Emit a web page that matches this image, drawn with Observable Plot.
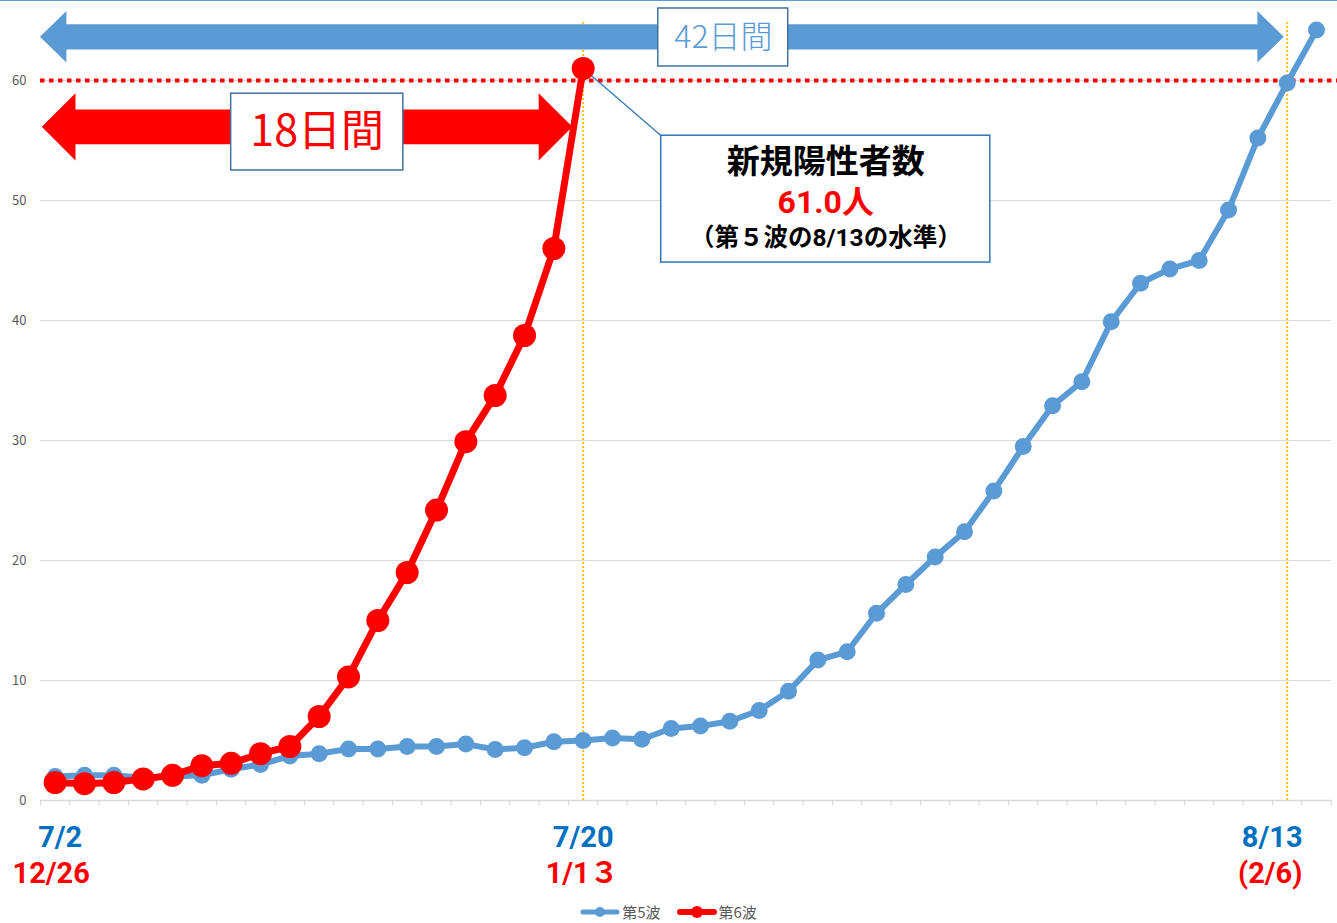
<!DOCTYPE html>
<html><head><meta charset="utf-8">
<script src="https://cdn.jsdelivr.net/npm/d3@7"></script>
<script src="https://cdn.jsdelivr.net/npm/@observablehq/plot@0.6"></script>
<style>
body{margin:0;background:#fff;font-family:"Noto Sans CJK JP","Noto Sans",sans-serif;}
#wrap{position:relative;width:1337px;height:923px;overflow:hidden;background:#fff}
#topline{position:absolute;left:0;top:0;width:1337px;height:1px;background:#5B9BD5}
#legend{position:absolute;left:0;top:900px;width:1337px;height:23px;display:flex;justify-content:center;align-items:center;font-size:15px;color:#595959;box-sizing:border-box}
#legend .item{display:flex;align-items:center;margin:0 8px}
#legend svg{margin-right:2px}
</style></head><body>
<div id="wrap"><div id="chart"></div><div id="legend"></div><div id="topline"></div></div>
<script>
// ---- data ----
const seriesNames = ["第5波", "第6波"];
const wave5 = [2.0,2.1,2.1,1.9,2.0,2.1,2.6,3.0,3.7,3.9,4.3,4.3,4.5,4.5,4.7,4.25,4.4,4.9,5.0,5.2,5.1,6.0,6.2,6.6,7.5,9.1,11.7,12.4,15.6,18.0,20.3,22.4,25.8,29.5,32.9,34.9,39.9,43.1,44.3,45.0,49.2,55.2,59.8,64.2];
const wave6 = [1.5,1.4,1.5,1.8,2.1,2.9,3.1,3.9,4.5,7.0,10.3,15.0,19.0,24.2,29.9,33.75,38.75,46.0,61.0];
const yTicks = [0,10,20,30,40,50,60];
const labelDays = [0, 18, 42];
const labels5 = ["7/2", "7/20", "8/13"];
const labels6 = ["12/26", "1/1３", "(2/6)"];
const threshold = 60;
const span6 = 18, span5 = 42;
const arrowTexts = ["42日間", "18日間"];
const calloutTexts = ["新規陽性者数", "61.0人", "（第５波の8/13の水準）"];

// ---- build ----
const d5 = wave5.map((v,i)=>({day:i, v}));
const d6 = wave6.map((v,i)=>({day:i, v}));
const nDays = wave5.length;
const C5 = "#5B9BD5", C6 = "#FF0000";

function arrowPoly(xa, xb, yc, headLen, headHalf, shaftHalf){
  return [
    {x:xa, y1:yc, y2:yc},
    {x:xa+headLen, y1:yc-headHalf, y2:yc+headHalf},
    {x:xa+headLen, y1:yc-shaftHalf, y2:yc+shaftHalf},
    {x:xb-headLen, y1:yc-shaftHalf, y2:yc+shaftHalf},
    {x:xb-headLen, y1:yc-headHalf, y2:yc+headHalf},
    {x:xb, y1:yc, y2:yc}
  ];
}
const blueArrow = arrowPoly(-0.5, span5-0.1, 63.6, 0.9, 2.15, 1.05);
const redArrow = arrowPoly(-0.44, span6-0.35, 56.1, 1.15, 2.8, 1.45);

const boxes = [
  {x1:20.56, x2:24.99, y1:61.17, y2:66.0, stroke:"#41719C"},
  {x1:6.0, x2:11.87, y1:52.5, y2:58.9, stroke:"#41719C"},
  {x1:20.66, x2:31.88, y1:44.83, y2:55.4, stroke:"#2E75B6"}
];

const font = "'Noto Sans CJK JP', 'Noto Sans', sans-serif";
const tightFont = "Roboto, 'Noto Sans CJK JP', sans-serif";
const dx5 = [5, 0, -15], dx6 = [-4, -1, -17];

const chart = Plot.plot({
  width: 1337, height: 897,
  marginLeft: 40, marginRight: 6.3, marginTop: 0, marginBottom: 97,
  x: {domain: [-0.5, nDays - 0.5], axis: null},
  y: {domain: [0, 800/12], axis: null},
  style: {fontFamily: font, background: "white"},
  marks: [
    Plot.ruleY(yTicks.filter(d=>d>0), {x1:-0.5, x2:nDays-0.5, stroke:"#d9d9d9", strokeWidth:1.2}),
    Plot.ruleY([0], {x1:-0.5, x2:nDays-0.5, stroke:"#d9d9d9", strokeWidth:1.6}),
    Plot.ruleX(d3.range(nDays+1).map(i=>i-0.5), {y1:0, y2:-0.45, stroke:"#d9d9d9", strokeWidth:1.2}),
    Plot.text(yTicks, {x:-0.5, y:d=>d, text:d=>String(d), dx:-14, textAnchor:"end", fontSize:13, fill:"#595959"}),
    Plot.ruleX([span6, span5], {y1:0, y2:65, stroke:"#FFC000", strokeWidth:2, strokeDasharray:"2,2"}),
    Plot.ruleY([threshold], {x1:-0.5, x2:nDays-0.28, stroke:C6, strokeWidth:4, strokeDasharray:"4.5,4.5"}),
    Plot.areaY(blueArrow, {x:"x", y1:"y1", y2:"y2", fill:C5, curve:"linear"}),
    Plot.areaY(redArrow, {x:"x", y1:"y1", y2:"y2", fill:C6, curve:"linear"}),
    Plot.link([{a:span6, b:wave6[span6]}], {x1:"a", y1:"b", x2:20.66, y2:55.4, stroke:"#2E75B6", strokeWidth:1.2}),
    Plot.rect(boxes, {x1:"x1", x2:"x2", y1:"y1", y2:"y2", fill:"white", stroke:"stroke", strokeWidth:1.5}),
    Plot.text([arrowTexts[0]], {x:22.78, y:63.6, text:d=>d, fontSize:32, fill:C5, fontWeight:300}),
    Plot.text([arrowTexts[1]], {x:8.93, y:55.7, text:d=>d, fontSize:43, fill:C6, fontWeight:400}),
    Plot.text([calloutTexts[0]], {x:26.27, y:53.2, text:d=>d, fontSize:33, fill:"#000", fontWeight:"bold", fontFamily:tightFont}),
    Plot.text([calloutTexts[1]], {x:26.27, y:49.8, text:d=>d, fontSize:32, fill:C6, fontWeight:"bold", fontFamily:tightFont}),
    Plot.text([calloutTexts[2]], {x:26.27, y:46.85, text:d=>d, fontSize:24.5, fill:"#000", fontWeight:"bold", fontFamily:tightFont}),
    Plot.line(d5, {x:"day", y:"v", stroke:C5, strokeWidth:6, strokeLinejoin:"round"}),
    Plot.dot(d5, {x:"day", y:"v", r:8.5, fill:C5}),
    Plot.line(d6, {x:"day", y:"v", stroke:C6, strokeWidth:7, strokeLinejoin:"round"}),
    Plot.dot(d6, {x:"day", y:"v", r:11.5, fill:C6}),
    ...labelDays.map((d,i)=>Plot.text([labels5[i]], {x:()=>d, y:()=>0, text:t=>t, dy:37, dx:dx5[i], fontSize:29, fontWeight:"bold", fill:"#0070C0", fontFamily:tightFont})),
    ...labelDays.map((d,i)=>Plot.text([labels6[i]], {x:()=>d, y:()=>0, text:t=>t, dy:73, dx:dx6[i], fontSize:29, fontWeight:"bold", fill:C6, fontFamily:tightFont}))
  ]
});
document.getElementById("chart").appendChild(chart);

// legend
const lg = document.getElementById("legend");
[[seriesNames[0], C5, 5, 5], [seriesNames[1], C6, 6, 6]].forEach(([name, col, sw, r])=>{
  const it = document.createElement("div"); it.className = "item";
  it.innerHTML = `<svg width="40" height="14"><line x1="3" y1="7" x2="37" y2="7" stroke="${col}" stroke-width="${sw}" stroke-linecap="round"/><circle cx="20" cy="7" r="${r}" fill="${col}"/></svg><span>${name}</span>`;
  lg.appendChild(it);
});
</script>
</body></html>
